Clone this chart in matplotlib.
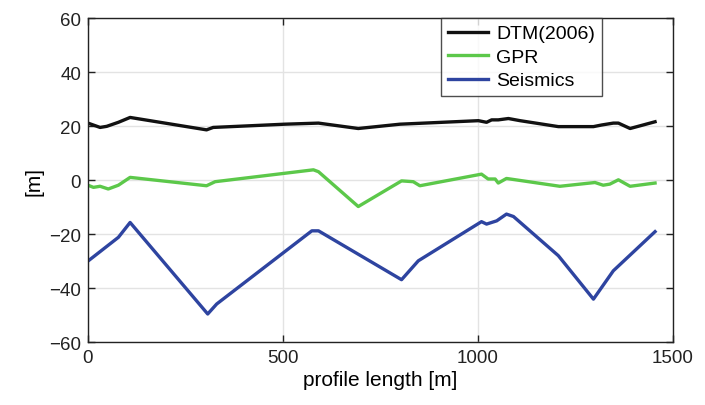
import matplotlib
matplotlib.use("Agg")
import matplotlib.pyplot as plt

plt.rcParams['font.family'] = ['Liberation Sans', 'DejaVu Sans']

# Profile positions [m] and elevations [m]
dtm_x = [0, 31, 48, 78, 108, 304, 321, 505, 591, 693, 800, 1001, 1022, 1035,
         1052, 1078, 1108, 1206, 1296, 1317, 1347, 1360, 1390, 1454]
dtm_y = [21.1, 19.5, 19.9, 21.4, 23.2, 18.6, 19.5, 20.7, 21.1, 19.1, 20.7, 22.0,
         21.4, 22.3, 22.3, 22.8, 22.0, 19.8, 19.8, 20.4, 21.1, 21.1, 19.1, 21.6]

gpr_x = [0, 14, 31, 52, 78, 108, 304, 326, 578, 591, 693, 804, 834, 851, 1009,
         1026, 1044, 1052, 1073, 1210, 1300, 1321, 1338, 1360, 1390, 1454]
gpr_y = [-1.9, -2.7, -2.3, -3.3, -1.9, 1.0, -2.1, -0.6, 3.8, 3.1, -9.8, -0.3,
         -0.6, -2.1, 2.2, 0.4, 0.4, -1.1, 0.6, -2.3, -0.9, -1.9, -1.5, 0.1, -2.3, -1.1]

seis_x = [0, 78, 108, 307, 330, 574, 591, 804, 847, 1009, 1022, 1048, 1073,
          1091, 1206, 1296, 1347, 1454]
seis_y = [-30.0, -21.2, -15.7, -49.6, -45.9, -18.8, -18.8, -36.9, -29.9, -15.4,
          -16.3, -15.1, -12.6, -13.5, -28.0, -44.1, -33.6, -19.1]

series_names = ['DTM(2006)', 'GPR', 'Seismics']
series_colors = ['#111111', '#5cc84a', '#2e44a0']

x_ticks = [0, 500, 1000, 1500]
y_ticks = [-60, -40, -20, 0, 20, 40, 60]

fig = plt.figure(figsize=(7.05, 4.06), dpi=100)
ax = fig.add_axes([0.1248, 0.155, 0.8298, 0.798])

for (xs, ys), name, col in zip([(dtm_x, dtm_y), (gpr_x, gpr_y), (seis_x, seis_y)],
                               series_names, series_colors):
    ax.plot(xs, ys, color=col, lw=2.4, label=name, solid_joinstyle='round')

ax.set_xlim(0, 1500)
ax.set_ylim(-60, 60)
ax.set_xticks(x_ticks)
ax.set_yticks(y_ticks)
ax.grid(True, color='#e3e3e3', lw=1.0)
ax.set_axisbelow(True)
ax.tick_params(direction='in', top=True, right=True, length=5, width=1.0,
               labelsize=13.5, colors='#222222', pad=5)
for sp in ax.spines.values():
    sp.set_linewidth(1.0)
    sp.set_color('#222222')

ax.set_xlabel('profile length [m]', fontsize=15, labelpad=3)
ax.set_ylabel('[m]', fontsize=15, labelpad=4)

leg = ax.legend(loc='upper left', bbox_to_anchor=(0.603, 1.0), fontsize=14,
                frameon=True, fancybox=False, edgecolor='#222222',
                handlelength=2.1, handletextpad=0.4, borderpad=0.35,
                labelspacing=0.3, borderaxespad=0.0)
leg.get_frame().set_linewidth(1.0)

fig.savefig('out.png', dpi=100)
